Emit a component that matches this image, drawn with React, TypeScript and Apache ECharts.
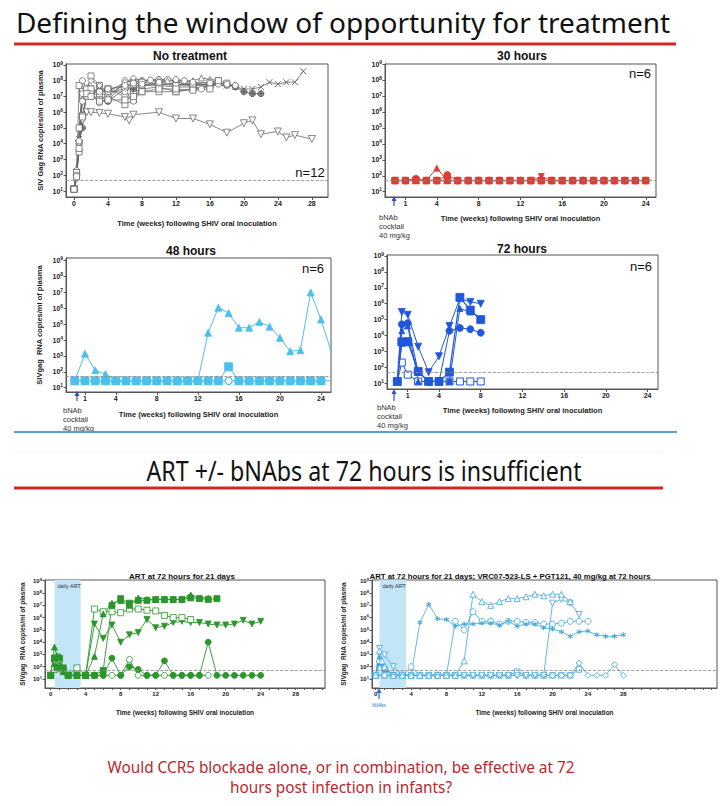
import React, { useEffect, useRef } from 'react';
import * as echarts from 'echarts';

type Pt = [number, number];

const LOD = 50;
const yDecades = [1, 2, 3, 4, 5, 6, 7, 8, 9];
const xLabelsA = [0, 4, 8, 12, 16, 20, 24, 28];
const xLabelsB = [1, 4, 8, 12, 16, 20, 24];
const xTicksC = [0, 1, 2, 3, 4, 5, 6, 7, 8, 9, 10, 11, 12, 13, 14, 15, 16, 17, 18, 19, 20, 21, 22, 23, 24, 25, 26, 27, 28, 29, 30, 31];
const xTicksD = [0, 1, 2, 3, 4, 5, 6, 7, 8, 9, 10, 11, 12, 13, 14, 15, 16, 17, 18, 19, 20, 21, 22, 23, 24, 25, 26, 27, 28, 29, 30, 31, 32, 33, 34, 35, 36, 37, 38];
const artWindow = [0.43, 3.43];

// ---- No treatment (n=12)
const ntSqA: Pt[] = [[0, 13], [0.3, 150], [0.6, 5e7], [1, 1e7], [1.5, 2e7], [2, 2e8], [3, 5e7], [4, 1e7], [6, 3e6], [7, 6e6], [8, 2e7], [10, 2e7], [12, 2e7], [14, 3e7], [16, 5e7], [17, 1e8]];
const ntSqB: Pt[] = [[0, 13], [0.3, 100], [0.6, 3000], [1, 6e5], [1.5, 1.5e7], [2, 3e7], [3, 2e7], [4, 3e7], [6, 1e7], [7, 2e7], [8, 3e7], [10, 4e7], [12, 2e7], [14, 3e7], [16, 5e7]];
const ntCiA: Pt[] = [[0, 13], [0.3, 200], [0.6, 1e4], [1, 1e8], [1.5, 3e7], [2, 2e7], [3, 1e7], [4, 5e6], [6, 1e8], [7, 8e7], [8, 1e8], [10, 1.2e8], [11, 1.2e8], [12, 8e7], [14, 6e7], [16, 5e7], [18, 5e7], [19, 5e7]];
const ntTriA: Pt[] = [[0, 13], [0.3, 100], [0.6, 2e4], [1, 3e7], [1.5, 2e7], [2, 3e7], [3, 2e7], [4, 1e7], [6, 7e7], [7, 1.2e8], [8, 1e8], [10, 1e8], [11, 1e8], [12, 1.1e8], [13, 1e8], [14, 1e8], [15, 1.5e8], [16, 1.2e8], [17, 1e8]];
const ntDia: Pt[] = [[0, 13], [0.3, 120], [0.6, 1e4], [1, 2e7], [2, 1e8], [3, 5e7], [4, 2e7], [6, 8e7], [7, 1.5e8], [8, 1e8], [10, 1.2e8], [12, 1e8], [14, 8e7]];
const ntX: Pt[] = [[0, 13], [0.3, 80], [0.6, 2e4], [1, 1e7], [1.5, 2e7], [2, 2e7], [3, 3e7], [4, 2e7], [6, 3e7], [7, 5e7], [8, 5e7], [10, 6e7], [12, 6e7], [14, 5e7], [16, 6e7], [18, 5e7], [19, 4e7], [20, 3e7], [21, 3e7], [22, 4e7], [23, 8e7], [24, 6e7], [25, 8e7], [26, 8e7], [27, 4e8]];
const ntCp: Pt[] = [[0, 13], [0.3, 150], [0.6, 1.5e4], [1, 1e5], [1.5, 2e7], [2, 1.5e7], [3, 5e6], [4, 5e6], [6, 3e7], [7, 3e7], [8, 5e7], [10, 8e7], [12, 6e7], [14, 5e7], [16, 6e7], [17, 7e7], [18, 6e7], [19, 4e7], [20, 2e7], [21, 1.5e7], [22, 1.5e7]];
const ntCiB: Pt[] = [[0, 13], [0.3, 100], [0.6, 1e4], [1, 5e6], [1.5, 1e7], [2, 2e7], [3, 4e6], [4, 2e7], [6, 2e7], [7, 5e6], [8, 5e7], [10, 5e7], [12, 4e7], [14, 4e7], [15, 3e7], [16, 5e7], [17, 6e7]];
const ntDtri: Pt[] = [[0, 13], [0.3, 60], [0.6, 1e4], [1, 3e5], [1.5, 1e6], [2, 1e6], [3, 9e5], [4, 8e5], [6, 5e5], [6.5, 3e5], [7, 7e5], [10, 1e6], [12, 4e5], [14, 4e5], [16, 1.7e5], [18, 5e4], [20, 2e5], [21, 3e5], [22, 4e4], [24, 6e4], [25, 2.5e4], [26, 3.5e4], [28, 2e4]];
const ntSqC: Pt[] = [[0, 13], [0.3, 150], [0.6, 1e5], [1, 2e7], [1.5, 3e7], [2, 3e7], [3, 1.5e7], [4, 3e7], [6, 4e7], [7, 6e7], [8, 8e7], [10, 6e7], [12, 5e7], [14, 6e7], [16, 8e7], [17, 1e8], [18, 7e7]];
const ntCiC: Pt[] = [[0, 13], [0.3, 100], [0.6, 1.5e4], [1, 1.5e7], [2, 1.5e7], [3, 2e7], [4, 3e7], [6, 5e7], [7, 7e7], [8, 6e7], [9, 1.1e8], [10, 8e7], [12, 1.2e8], [13, 1e8], [14, 8e7], [16, 7e7], [18, 6e7], [19, 5e7]];
const ntSqD: Pt[] = [[0, 13], [0.3, 80], [0.6, 5000], [1, 5e5], [1.5, 1.5e7], [2, 1e7], [3, 5e6], [4, 6e6], [6, 6e6], [7, 1e7], [8, 2e7], [10, 3e7], [12, 3e7], [14, 2.5e7], [16, 3e7]];

// ---- 30 hours
const h30Weeks = [0, 1, 2, 3, 4, 5, 6, 7, 8, 9, 10, 11, 12, 13, 14, 15, 16, 17, 18, 19, 20, 21, 22, 23, 24];
const h30Sq = [50, 50, 50, 50, 50, 50, 50, 50, 50, 50, 50, 50, 50, 50, 50, 50, 50, 50, 50, 50, 50, 50, 50, 50, 50];
const h30Tri = [50, 50, 50, 50, 300, 50, 50, 50, 50, 50, 50, 50, 50, 50, 50, 50, 50, 50, 50, 50, 50, 50, 50, 50, 50];
const h30Circ = [50, 50, 65, 50, 50, 110, 50, 50, 50, 50, 50, 50, 50, 50, 50, 50, 50, 50, 50, 50, 50, 50, 50, 50, 50];
const h30Dtri = [50, 50, 50, 50, 50, 50, 50, 50, 50, 50, 50, 50, 50, 50, 90, 50, 50, 50, 50, 50, 50, 50, 50, 50, 50];

// ---- 48 hours
const h48Weeks = [0, 1, 2, 3, 4, 5, 6, 7, 8, 9, 10, 11, 12, 13, 14, 15, 16, 17, 18, 19, 20, 21, 22, 23, 24, 25];
const h48Sq = [27, 27, 27, 27, 27, 27, 27, 27, 27, 27, 27, 27, 27, 27, 27, 210, 27, 27, 27, 27, 27, 27, 27, 27, 27];
const h48Circ = [27, 27, 27, 27, 27, 27, 27, 27, 27, 27, 27, 27, 27, 27, 27, 27, 27, 27, 27, 27, 27, 27, 27, 27, 27, 27];
const h48Tri = [27, 1400, 125, 72, 27, 27, 27, 27, 27, 27, 27, 27, 27, 2.9e4, 1.1e6, 5e5, 6e4, 6e4, 1.4e5, 7e4, 1.4e4, 2000, 2300, 1e7, 2e5, 1900];

// ---- 72 hours
const h72Weeks = [0, 0.43, 1, 2, 3, 4, 5, 6, 7, 8];
const h72Sq = [13, 4000, 4000, 55, 13, 13, 50, 2.5e6, 4e5, 1e5];
const h72Dtri = [13, 3e5, 2e5, 2000, 50, 500, 4e4, 2e6, 1.3e6, 1e6];
const h72Circ = [13, 5e4, 6e4, 50, 13, 13, 2e4, 3e4, 2.5e4, 1.5e4];
const h72Tri = [13, 2e4, 4e4, 13, 13, 13, 13, 5e5, 3e5, 1.2e5];
const h72Sq2 = [13, 3000, 5000, 60, 13, 13, 13];
const h72Open = [13, 200, 35, 13, 13, 13, 13, 13, 13, 13];

// ---- ART at 72 hours
const gTri: Pt[] = [[0, 20], [0.43, 4000], [0.71, 800], [1, 700], [1.43, 40], [2, 20], [3, 20], [4, 20], [5, 700], [6, 2e6], [7, 1.5e7], [8, 2.5e7], [9, 1e7], [10, 4e7], [11, 3e7], [12, 3e7], [13, 3e7], [14, 3e7], [15, 3e7], [16, 7e7], [17, 4e7], [18, 4e7]];
const gSq: Pt[] = [[0, 20], [0.43, 500], [0.71, 80], [1, 500], [1.43, 80], [2, 20], [3, 20], [4, 20], [5, 20], [6, 50], [7, 1e7], [8, 3.5e7], [9, 1.5e7], [10, 2.5e7], [11, 2.5e7], [12, 3e7], [13, 3e7], [14, 3e7], [15, 3e7], [16, 4e7], [17, 3.5e7], [18, 3e7], [19, 3.5e7]];
const gOpenSq: Pt[] = [[0, 20], [0.43, 60], [1, 400], [1.43, 50], [2, 20], [3, 80], [4, 20], [5, 5e6], [6, 3e6], [7, 3e6], [8, 2.5e6], [9, 5e6], [10, 5e6], [11, 4e6], [12, 3.5e6], [13, 1.5e6], [14, 1e6], [15, 1e6], [16, 7e5]];
const gDtri: Pt[] = [[0, 20], [0.43, 500], [1, 300], [1.43, 40], [2, 20], [3, 20], [4, 20], [5, 3e5], [6, 2e4], [7, 2.5e5], [8, 1e4], [9, 4e4], [10, 6e4], [11, 7e5], [12, 1.5e5], [13, 2e5], [14, 4e5], [15, 5e5], [16, 4e5], [17, 4e5], [18, 3e5], [19, 2.5e5], [20, 2.5e5], [21, 3e5], [22, 6e5], [23, 3e5], [24, 5e5]];
const gCirc: Pt[] = [[0, 20], [0.43, 100], [1, 80], [2, 20], [3, 20], [4, 20], [5, 20], [6, 20], [7, 500], [8, 20], [9, 100], [10, 60], [11, 20], [12, 20], [13, 300], [14, 20], [15, 20], [16, 20], [17, 20], [18, 1e4], [19, 20], [20, 20], [21, 20], [22, 20], [23, 20], [24, 20]];
const gOpenCirc: Pt[] = [[0, 20], [0.43, 300], [1, 400], [1.43, 40], [2, 20], [4, 20], [5, 20], [6, 20], [7, 20], [8, 20], [9, 400], [10, 20], [11, 20], [12, 20], [13, 20], [14, 20], [15, 20], [16, 20], [17, 20], [18, 20]];

// ---- ART + bNAbs at 72 hours
const bTri: Pt[] = [[0, 20], [0.43, 2000], [0.71, 300], [1, 100], [2, 20], [3, 20], [4, 20], [5, 20], [6, 20], [7, 20], [8, 20], [9, 20], [10, 300], [11, 8e7], [12, 2e7], [13, 1e7], [14, 2e7], [15, 3.5e7], [16, 3.5e7], [17, 5e7], [18, 8e7], [19, 6e7], [20, 8e7], [21, 8e7], [22, 2e7]];
const bDtri: Pt[] = [[0, 20], [0.43, 3000], [1, 900], [2, 100], [3, 20], [4, 20], [5, 20], [6, 20], [7, 20], [8, 20], [9, 20], [10, 20], [11, 20], [12, 20], [13, 20], [14, 20], [15, 20], [16, 20], [17, 20], [18, 20], [19, 20], [20, 1.5e7], [21, 3e7], [22, 1.5e7], [23, 1.8e6]];
const bStar: Pt[] = [[0, 20], [0.43, 500], [1, 80], [2, 20], [3, 20], [4, 20], [5, 4e5], [6, 1.2e7], [7, 8e5], [8, 7e5], [9, 2e5], [10, 3e5], [11, 3e5], [12, 3.5e5], [13, 3.5e5], [14, 2.5e5], [15, 5e5], [16, 2e5], [17, 3e5], [18, 3e5], [19, 1.5e5], [20, 1.2e5], [21, 7e4], [22, 3e4], [23, 7e4], [24, 8e4], [25, 4e4], [26, 3e4], [27, 3e4], [28, 4e4]];
const bCirc: Pt[] = [[0, 20], [0.43, 300], [1, 80], [2, 20], [3, 20], [4, 100], [5, 20], [6, 20], [7, 20], [8, 20], [9, 5e5], [10, 1e5], [11, 3e6], [12, 5e5], [13, 5e5], [14, 3e5], [15, 5e5], [16, 5e5], [17, 4e5], [18, 4e5], [19, 3e5], [20, 3e5], [21, 3.5e5], [22, 5e5], [23, 5e5], [24, 5e5]];
const bDia: Pt[] = [[0, 20], [1, 20], [2, 20], [3, 20], [4, 20], [5, 20], [6, 20], [7, 20], [8, 20], [9, 20], [10, 20], [11, 20], [12, 20], [13, 20], [14, 20], [15, 20], [16, 20], [17, 20], [18, 20], [19, 20], [20, 20], [21, 20], [22, 20], [23, 200], [24, 20], [25, 20], [26, 20], [27, 150], [28, 20]];
const bOpenSq: Pt[] = [[0, 20], [1, 20], [2, 20], [3, 20], [4, 20], [5, 20], [6, 20], [7, 20], [8, 20], [9, 20], [10, 20], [11, 20], [12, 20], [13, 20], [14, 20], [15, 20], [16, 40], [17, 20], [18, 20], [19, 20], [20, 20], [21, 20], [22, 20], [23, 60]];
const bSq: Pt[] = [[0, 20], [0.43, 200], [1, 60], [2, 20], [3, 20], [4, 20]];

const FONT = '"Liberation Sans", Arial, sans-serif';
const SLIDE = '"Noto Sans", "Open Sans", sans-serif';

const SYM = {
  sq: 'rect',
  ci: 'circle',
  tri: 'triangle',
  dia: 'diamond',
  dtri: 'path://M0,0L10,0L5,9Z',
  x: 'path://M0,0L10,10M10,0L0,10',
  star: 'path://M5,0L5,10M0.7,2.5L9.3,7.5M0.7,7.5L9.3,2.5',
  cp: 'path://M5,0A5,5,0,1,1,4.99,0ZM5,0L5,10M0,5L10,5',
};

const pairs = (w: number[], v: number[]): Pt[] => v.map((val, i) => [w[i], val]);

function ser(gi: number, pts: Pt[], color: string, symbol: string, o: any = {}) {
  const s: any = {
    type: 'line',
    xAxisIndex: gi,
    yAxisIndex: gi,
    data: pts.map(([w, v]) => [w, Math.log10(v)]),
    symbol,
    symbolSize: o.size ?? 6,
    showSymbol: true,
    lineStyle: { color, width: o.lw ?? 0.8 },
    itemStyle: {
      color: o.open ? '#ffffff' : o.fill ?? color,
      borderColor: color,
      borderWidth: o.bw ?? 0.8,
    },
    z: o.z ?? 3,
    silent: true,
  };
  if (o.lod) {
    s.markLine = {
      silent: true,
      symbol: 'none',
      label: { show: false },
      lineStyle: { type: 'dashed', color: '#8a8a8a', width: 0.8 },
      data: [{ yAxis: Math.log10(LOD) }],
    };
  }
  if (o.art) {
    s.markArea = {
      silent: true,
      itemStyle: { color: '#c3e5f8' },
      label: { show: true, position: 'insideTopLeft', formatter: 'daily ART', fontSize: 5.5, color: '#333', fontFamily: FONT, distance: 3 },
      data: [[{ xAxis: artWindow[0] }, { xAxis: artWindow[1] }]],
    };
  }
  return s;
}

const rich = (fs: number) => ({
  b: { fontSize: fs, fontWeight: 'bold', fontFamily: FONT, color: '#222' },
  s: { fontSize: fs * 0.7, fontWeight: 'bold', fontFamily: FONT, color: '#222', padding: [0, 0, fs * 0.55, 0] },
});

function yAx(gi: number, min: number, max: number, o: any) {
  return {
    type: 'value',
    gridIndex: gi,
    min,
    max,
    axisLine: { show: true, onZero: false, lineStyle: { color: '#555', width: 1 } },
    splitLine: { show: false },
    axisTick: { show: true, customValues: yDecades, length: 2.5, lineStyle: { color: '#555' } },
    axisLabel: { customValues: yDecades, formatter: (v: number) => `{b|10}{s|${v}}`, rich: rich(o.fs), margin: o.margin ?? 3 },
    name: o.name ?? '',
    nameLocation: 'middle',
    nameGap: o.nameGap ?? 20,
    nameTextStyle: { fontFamily: FONT, fontWeight: 'bold', fontSize: o.nameFs ?? 7.5, color: '#222' },
  };
}

function xAx(gi: number, min: number, max: number, labels: number[], ticks: number[], o: any) {
  return {
    type: 'value',
    gridIndex: gi,
    min,
    max,
    axisLine: { show: true, onZero: false, lineStyle: { color: '#555', width: 1 } },
    splitLine: { show: false },
    axisTick: { show: true, customValues: ticks, length: o.tickLen ?? 3, lineStyle: { color: '#555' } },
    axisLabel: { customValues: labels, fontSize: o.fs, fontWeight: 'bold', fontFamily: FONT, color: '#222', margin: o.margin ?? 3 },
    name: 'Time (weeks) following SHIV oral inoculation',
    nameLocation: 'middle',
    nameGap: o.nameGap,
    nameTextStyle: { fontFamily: FONT, fontWeight: 'bold', fontSize: o.nameFs, color: '#222' },
  };
}

const grid = (left: number, top: number, width: number, height: number) => ({
  left, top, width, height, show: true, borderColor: '#555', borderWidth: 1, backgroundColor: 'transparent', containLabel: false,
});

const txt = (x: number, y: number, text: string, font: string, fill = '#111', align = 'center', extra: any = {}) => ({
  type: 'text',
  x,
  y,
  silent: true,
  ...extra,
  style: { text, font, fill, align, textAlign: align, verticalAlign: 'middle', textVerticalAlign: 'middle', ...(extra.style || {}) },
});

const arrow = (x: number, y1: number, y2: number, color = '#2a4fd0') => [
  { type: 'line', silent: true, shape: { x1: x, y1, x2: x, y2: y2 + 3 }, style: { stroke: color, lineWidth: 1.2 } },
  { type: 'polygon', silent: true, shape: { points: [[x - 2.5, y2 + 4], [x + 2.5, y2 + 4], [x, y2 - 1]] }, style: { fill: color } },
];

const hline = (x1: number, x2: number, y: number, stroke: string, w: number) => ({
  type: 'line', silent: true, shape: { x1, y1: y, x2, y2: y }, style: { stroke, lineWidth: w },
});

export default function App() {
  const ref = useRef<HTMLDivElement>(null);
  useEffect(() => {
    if (!ref.current) return;
    const chart = echarts.init(ref.current, undefined, { renderer: 'svg' });
    const grey = '#6a6a6a';
    const red = '#e23b2e';
    const cyan = '#4cc0ea';
    const blue = '#2057dc';
    const green = '#2b962b';
    const lblue = '#3ea6dc';

    const series: any[] = [
      ser(0, ntSqA, grey, SYM.sq, { open: true, lod: true }),
      ser(0, ntSqB, grey, SYM.sq, { open: true }),
      ser(0, ntCiA, grey, SYM.ci, { open: true }),
      ser(0, ntTriA, grey, SYM.tri, { open: true }),
      ser(0, ntDia, grey, SYM.dia, { open: true }),
      ser(0, ntX, grey, SYM.x, { fill: 'rgba(0,0,0,0)', bw: 1 }),
      ser(0, ntCp, '#555', SYM.cp, { fill: '#9a9a9a', bw: 0.9 }),
      ser(0, ntCiB, grey, SYM.ci, { open: true }),
      ser(0, ntDtri, grey, SYM.dtri, { open: true, size: 7 }),
      ser(0, ntSqC, grey, SYM.sq, { open: true }),
      ser(0, ntCiC, grey, SYM.ci, { open: true }),
      ser(0, ntSqD, grey, SYM.sq, { open: true }),
      ser(1, pairs(h30Weeks, h30Tri), red, SYM.tri, { lw: 1, size: 6, lod: true }),
      ser(1, pairs(h30Weeks, h30Circ), red, SYM.ci, { lw: 1, size: 7 }),
      ser(1, pairs(h30Weeks, h30Dtri), red, SYM.dtri, { lw: 1, size: 6 }),
      ser(1, pairs(h30Weeks, h30Sq), red, SYM.sq, { lw: 1, size: 6.5, z: 4 }),
      ser(2, pairs(h48Weeks, h48Circ), cyan, SYM.ci, { lw: 1, size: 7, open: true, bw: 1.2, lod: true }),
      ser(2, pairs(h48Weeks, h48Tri), cyan, SYM.tri, { lw: 1, size: 7 }),
      ser(2, pairs(h48Weeks, h48Sq), cyan, SYM.sq, { lw: 1, size: 8, z: 4 }),
      ser(3, pairs(h72Weeks, h72Open), blue, SYM.sq, { lw: 1, size: 7, open: true, bw: 1, lod: true }),
      ser(3, pairs(h72Weeks, h72Sq2), blue, SYM.sq, { lw: 1, size: 5 }),
      ser(3, pairs(h72Weeks, h72Tri), blue, SYM.tri, { lw: 1, size: 6 }),
      ser(3, pairs(h72Weeks, h72Circ), blue, SYM.ci, { lw: 1, size: 7 }),
      ser(3, pairs(h72Weeks, h72Dtri), blue, SYM.dtri, { lw: 1, size: 7 }),
      ser(3, pairs(h72Weeks, h72Sq), blue, SYM.sq, { lw: 1.2, size: 8, z: 4 }),
      ser(4, gOpenCirc, green, SYM.ci, { open: true, size: 6, lw: 0.9, lod: true, art: true, z: 2 }),
      ser(4, gCirc, green, SYM.ci, { size: 6, lw: 0.9 }),
      ser(4, gDtri, green, SYM.dtri, { size: 6, lw: 0.9 }),
      ser(4, gOpenSq, green, SYM.sq, { open: true, size: 6, lw: 0.9 }),
      ser(4, gSq, green, SYM.sq, { size: 6, lw: 0.9 }),
      ser(4, gTri, green, SYM.tri, { size: 6, lw: 0.9 }),
      ser(5, bSq, lblue, SYM.sq, { size: 5, lw: 0.8, lod: true, art: true, z: 2 }),
      ser(5, bOpenSq, lblue, SYM.sq, { open: true, size: 5.5, lw: 0.8 }),
      ser(5, bDia, lblue, SYM.dia, { open: true, size: 6, lw: 0.8 }),
      ser(5, bCirc, lblue, SYM.ci, { open: true, size: 6, lw: 0.8 }),
      ser(5, bStar, lblue, SYM.star, { size: 5, lw: 0.8, bw: 1 }),
      ser(5, bDtri, lblue, SYM.dtri, { open: true, size: 6, lw: 0.8 }),
      ser(5, bTri, lblue, SYM.tri, { open: true, size: 6, lw: 0.8 }),
    ];

    const graphic: any[] = [
      txt(343, 22, 'Defining the window of opportunity for treatment', `28px ${SLIDE}`, '#111'),
      hline(14, 676, 44, '#cc2a27', 3),
      txt(190, 56, 'No treatment', `bold 12px ${FONT}`),
      txt(522, 56, '30 hours', `bold 12px ${FONT}`),
      txt(191, 251, '48 hours', `bold 12px ${FONT}`),
      txt(522, 249, '72 hours', `bold 12px ${FONT}`),
      txt(310, 172, 'n=12', `13px ${FONT}`),
      txt(640, 73, 'n=6', `13px ${FONT}`),
      txt(313, 268, 'n=6', `13px ${FONT}`),
      txt(641, 266, 'n=6', `13px ${FONT}`),
      ...arrow(394, 206, 197),
      txt(379, 226, 'bNAb\ncocktail\n40 mg/kg', `7.5px ${FONT}`, '#333', 'left', { style: { lineHeight: 9 } }),
      ...arrow(77, 401, 392),
      txt(63, 419, 'bNAb\ncocktail\n40 mg/kg', `7.5px ${FONT}`, '#333', 'left', { style: { lineHeight: 9 } }),
      ...arrow(394, 401, 390),
      txt(377, 416, 'bNAb\ncocktail\n40 mg/kg', `7.5px ${FONT}`, '#333', 'left', { style: { lineHeight: 9 } }),
      hline(14, 677, 432, '#5a9fd6', 2),
      hline(14, 663, 452, '#eef4f8', 1),
      txt(364, 470, 'ART +/- bNAbs at 72 hours is insufficient', `27px ${SLIDE}`, '#111', 'center', { scaleX: 0.86 }),
      hline(14, 663, 488, '#cc2a27', 3),
      txt(182, 576, 'ART at 72 hours for 21 days', `bold 8px ${FONT}`),
      txt(510, 576, 'ART at 72 hours for 21 days; VRC07-523-LS + PGT121, 40 mg/kg at 72 hours', `bold 7.8px ${FONT}`),
      ...arrow(379, 699, 689, '#2a6fd0'),
      txt(379, 705, 'bNAbs', `4.5px ${FONT}`, '#2a6fd0'),
      txt(341, 767, 'Would CCR5 blockade alone, or in combination, be effective at 72', `16.5px ${SLIDE}`, '#b8282c', 'center', { scaleX: 0.93 }),
      txt(341, 787, 'hours post infection in infants?', `16.5px ${SLIDE}`, '#b8282c', 'center', { scaleX: 0.93 }),
    ];

    chart.setOption({
      animation: false,
      backgroundColor: '#ffffff',
      grid: [
        grid(66, 64, 262, 133),
        grid(385, 64, 271, 133),
        grid(66, 258, 265, 134),
        grid(387, 255, 271, 134),
        grid(45, 580, 280, 108),
        grid(372, 580, 345, 108),
      ],
      xAxis: [
        xAx(0, -0.94, 29.9, xLabelsA, xLabelsA, { fs: 7, nameGap: 22, nameFs: 7.5 }),
        xAx(1, -0.96, 24.98, xLabelsB, xLabelsB, { fs: 7, nameGap: 17, nameFs: 7.5 }),
        xAx(2, -0.85, 24.98, xLabelsB, xLabelsB, { fs: 7, nameGap: 18, nameFs: 7.5 }),
        xAx(3, -0.99, 25.0, xLabelsB, xLabelsB, { fs: 7, nameGap: 17, nameFs: 7.5 }),
        xAx(4, -0.65, 31.35, xLabelsA, xTicksC, { fs: 6, nameGap: 21, nameFs: 6.5, tickLen: 2 }),
        xAx(5, -0.42, 38.6, xLabelsA, xTicksD, { fs: 6, nameGap: 21, nameFs: 6.5, tickLen: 2 }),
      ],
      yAxis: [
        yAx(0, 0.62, 9.06, { fs: 7, name: 'SIV Gag RNA copies/ml of plasma', nameGap: 22, nameFs: 7.5 }),
        yAx(1, 0.67, 9.0, { fs: 7 }),
        yAx(2, 0.73, 9.17, { fs: 7, name: 'SIVgag  RNA copies/ml of plasma', nameGap: 23, nameFs: 7.5 }),
        yAx(3, 0.64, 9.06, { fs: 7 }),
        yAx(4, 0.27, 9.06, { fs: 6, name: 'SIVgag  RNA copies/ml of plasma', nameGap: 19, nameFs: 6.5 }),
        yAx(5, 0.27, 9.06, { fs: 6, name: 'SIVgag  RNA copies/ml of plasma', nameGap: 25, nameFs: 6.5 }),
      ],
      series,
      graphic,
    });
    return () => chart.dispose();
  }, []);
  return <div ref={ref} style={{ position: 'absolute', left: 0, top: 0, width: 724, height: 806, background: '#fff' }} />;
}
